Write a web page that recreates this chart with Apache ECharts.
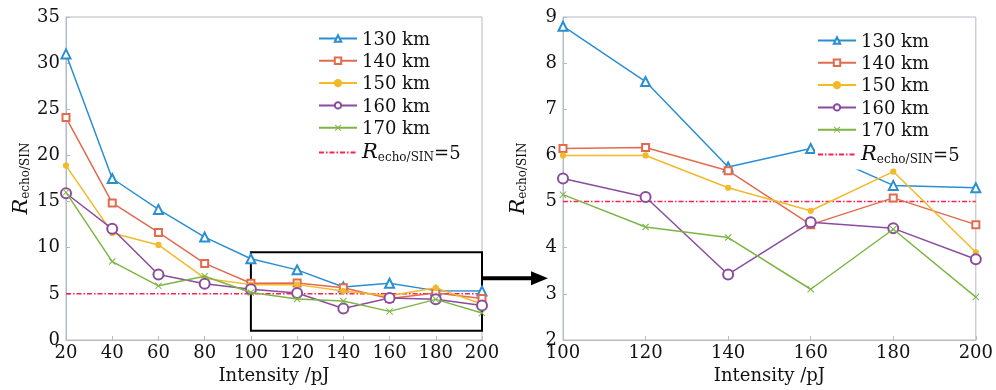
<!DOCTYPE html>
<html>
<head>
<meta charset="utf-8">
<script src="https://cdn.jsdelivr.net/npm/echarts@6/dist/echarts.min.js"></script>
<style>html,body{margin:0;padding:0;background:#fff;}#c{width:996px;height:390px;}</style>
</head>
<body>
<div id="c"></div>
<script>
const intensities = [20, 40, 60, 80, 100, 120, 140, 160, 180, 200];
const seriesNames = ['130 km', '140 km', '150 km', '160 km', '170 km'];
const r130 = [31.0, 17.5, 14.15, 11.15, 8.8, 7.6, 5.75, 6.15, 5.35, 5.3];
const r140 = [24.1, 14.85, 11.65, 8.3, 6.15, 6.17, 5.67, 4.5, 5.08, 4.5];
const r150 = [18.9, 11.6, 10.3, 6.7, 6.0, 6.0, 5.3, 4.8, 5.65, 3.9];
const r160 = [15.9, 12.05, 7.1, 6.1, 5.5, 5.1, 3.42, 4.55, 4.42, 3.75];
const r170 = [16.0, 8.5, 5.87, 6.9, 5.15, 4.45, 4.22, 3.1, 4.4, 2.93];
const thresholdValue = 5;
const thresholdName = 'R5';
const zoomStartIndex = 4; // 100 pJ onward in the right panel
const leftYTicks = {min: 0, max: 35, interval: 5};
const rightYTicks = {min: 2, max: 9, interval: 1};
const leftXTicks = {min: 20, max: 200, interval: 20};
const rightXTicks = {min: 100, max: 200, interval: 20};
const boxRange = {x0: 100, x1: 200, y0: 1, y1: 9.5};

const allValues = [r130, r140, r150, r160, r170];
const colors = ['#2a8fd2', '#e26b4e', '#f2b929', '#8a4c9f', '#7db544'];
const xPath = 'path://M1,0L5,4L9,0L10,1L6,5L10,9L9,10L5,6L1,10L0,9L4,5L0,1Z';
const symbols = ['emptyTriangle', 'emptyRect', 'circle', 'emptyCircle', xPath];
const symbolSizes = [9, 7, 5, 10, 7];
const FONT = 'DejaVu Serif';
const refColor = '#ff2050';

const chart = echarts.init(document.getElementById('c'), null, {renderer: 'canvas'});

const rich = {
  i: {fontFamily: FONT, fontStyle: 'italic', fontSize: 21, color: '#111', verticalAlign: 'bottom', lineHeight: 22},
  s: {fontFamily: FONT, fontSize: 12, color: '#111', verticalAlign: 'bottom', lineHeight: 6},
  n: {fontFamily: FONT, fontSize: 18, color: '#111', verticalAlign: 'bottom', lineHeight: 21}
};

function makeAxisX(idx, t) {
  return {
    type: 'value', gridIndex: idx, min: t.min, max: t.max, interval: t.interval,
    name: 'Intensity /pJ', nameLocation: 'middle', nameGap: 27,
    nameTextStyle: {fontFamily: FONT, fontSize: 18, color: '#111'},
    axisLine: {lineStyle: {color: '#b4bac8', width: 1}},
    axisTick: {inside: true, length: 4, lineStyle: {color: '#b4bac8'}},
    axisLabel: {fontFamily: FONT, fontSize: 18, color: '#111', margin: 4},
    splitLine: {show: false}
  };
}
function makeAxisY(idx, t) {
  return {
    type: 'value', gridIndex: idx, min: t.min, max: t.max, interval: t.interval,
    name: '{i|R}{s|echo/SIN}', nameLocation: 'middle', nameGap: 34, nameRotate: 90,
    nameTextStyle: {rich: rich},
    axisLine: {show: true, lineStyle: {color: '#b4bac8', width: 1}},
    axisTick: {inside: true, length: 4, lineStyle: {color: '#b4bac8'}},
    axisLabel: {fontFamily: FONT, fontSize: 18, color: '#111', margin: 6},
    splitLine: {show: false}
  };
}

const series = [];
[0, 1].forEach(function (g) {
  const start = g === 0 ? 0 : zoomStartIndex;
  allValues.forEach(function (vals, k) {
    const data = [];
    for (let i = start; i < intensities.length; i++) data.push([intensities[i], vals[i]]);
    const s = {
      name: seriesNames[k], type: 'line', xAxisIndex: g, yAxisIndex: g,
      data: data, symbol: symbols[k], symbolSize: symbolSizes[k], showSymbol: true,
      lineStyle: {color: colors[k], width: 1.5},
      itemStyle: {color: colors[k], borderColor: colors[k], borderWidth: 1.2},
      z: 3 + k, animation: false
    };
    if (k === 4) s.itemStyle = {color: colors[k], borderWidth: 0};
    series.push(s);
  });
  const ref = [];
  for (let i = start; i < intensities.length; i++) ref.push([intensities[i], thresholdValue]);
  const refSeries = {
    name: thresholdName, type: 'line', xAxisIndex: g, yAxisIndex: g, data: ref,
    symbol: 'none', lineStyle: {color: refColor, width: 1.5, type: [5, 2, 1.5, 2]},
    itemStyle: {color: refColor}, z: 2, animation: false
  };
  if (g === 0) {
    refSeries.markArea = {
      silent: true,
      itemStyle: {color: 'rgba(0,0,0,0)', borderColor: '#000', borderWidth: 2},
      data: [[{coord: [boxRange.x0, boxRange.y0]}, {coord: [boxRange.x1, boxRange.y1]}]]
    };
  }
  series.push(refSeries);
});

function legendFmt(name) {
  return name === thresholdName ? '{i|R}{s|echo/SIN}{n|=' + thresholdValue + '}' : '{n|' + name + '}';
}
function makeLegend(left, top) {
  const data = seriesNames.map(function (n) { return {name: n}; });
  data.push({name: thresholdName, itemStyle: {opacity: 0}});
  return {
    data: data, orient: 'vertical', left: left, top: top,
    itemWidth: 38, itemHeight: 8, itemGap: 4.3, padding: [2, 4, 4, 2],
    backgroundColor: '#fff', selectedMode: false,
    formatter: legendFmt,
    textStyle: {fontFamily: FONT, fontSize: 18, color: '#111', rich: rich}
  };
}

chart.setOption({
  backgroundColor: '#fff',
  animation: false,
  grid: [
    {left: 66, right: 514, top: 17, bottom: 49, show: true, borderColor: '#b4bac8', borderWidth: 1, backgroundColor: 'transparent'},
    {left: 563, right: 17, top: 17, bottom: 49, show: true, borderColor: '#b4bac8', borderWidth: 1, backgroundColor: 'transparent'}
  ],
  xAxis: [makeAxisX(0, leftXTicks), makeAxisX(1, rightXTicks)],
  yAxis: [makeAxisY(0, leftYTicks), makeAxisY(1, rightYTicks)],
  legend: [makeLegend(316, 29), makeLegend(815, 31)],
  series: series
});

// arrow from the zoom box to the right panel
const arrowY = 6.7;
const p0 = chart.convertToPixel({gridIndex: 0}, [boxRange.x1, arrowY]);
const p1 = chart.convertToPixel({gridIndex: 1}, [rightXTicks.min, rightYTicks.min]);
const tipX = p1[0] - 15;
chart.setOption({
  graphic: [
    {type: 'line', shape: {x1: p0[0], y1: p0[1], x2: tipX - 14, y2: p0[1]}, style: {stroke: '#000', lineWidth: 4}, z: 10},
    {type: 'polygon', shape: {points: [[tipX - 17, p0[1] - 7], [tipX, p0[1]], [tipX - 17, p0[1] + 7]]}, style: {fill: '#000'}, z: 10}
  ]
});
</script>
</body>
</html>
